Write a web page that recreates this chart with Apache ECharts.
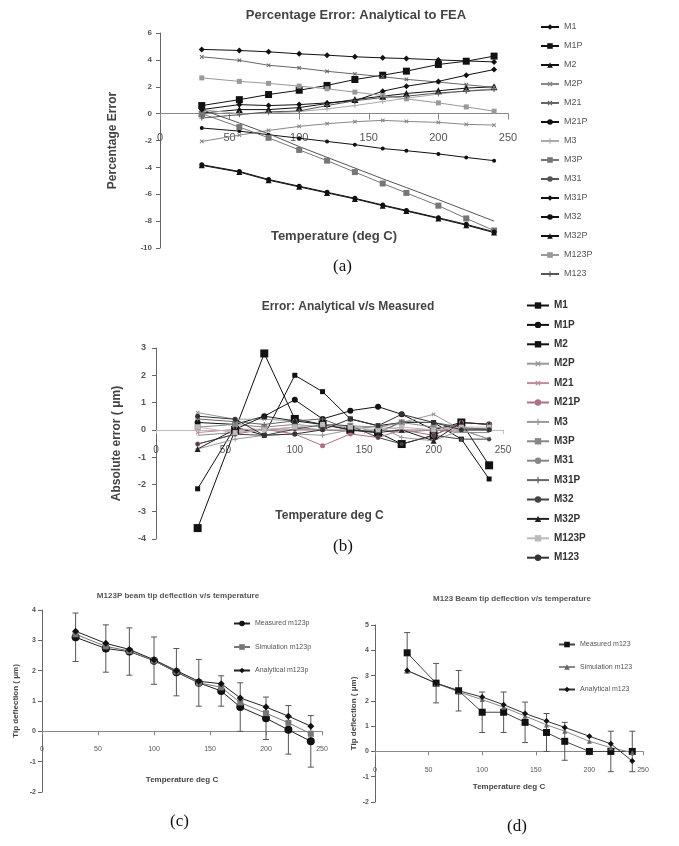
<!DOCTYPE html>
<html><head><meta charset="utf-8">
<script src="https://cdn.jsdelivr.net/npm/echarts@6/dist/echarts.min.js"></script>
<style>html,body{margin:0;padding:0;background:#fff}#c{width:679px;height:846px}</style>
</head><body><div id="c"></div>
<script>
// ---------- data ----------
const temps = [30, 57, 78, 100, 120, 140, 160, 177, 200, 220, 240];
const beamNames = ['M1','M1P','M2','M2P','M21','M21P','M3','M3P','M31','M31P','M32','M32P','M123P','M123'];

// (a) percentage error analytical to FEA
const a_M1    = [4.78, 4.7, 4.6, 4.45, 4.35, 4.23, 4.15, 4.1, 4.0, 3.92, 3.85];
const a_M1P   = [0.6, 1.04, 1.42, 1.74, 2.1, 2.54, 2.86, 3.16, 3.66, 3.9, 4.28];
const a_M2    = [0.04, 0.3, 0.3, 0.45, 0.75, 1.05, 1.3, 1.5, 1.7, 1.9, 2.0];
const a_M2P   = [-2.07, -1.6, -1.25, -0.95, -0.75, -0.6, -0.5, -0.58, -0.65, -0.8, -0.85];
const a_M21   = [4.23, 3.96, 3.6, 3.4, 3.15, 2.95, 2.75, 2.55, 2.35, 2.15, 1.95];
const a_M21P  = [-1.07, -1.3, -1.57, -1.83, -2.07, -2.31, -2.6, -2.76, -3.0, -3.26, -3.5];
const a_M3    = [0.3, 0.0, 0.05, 0.15, 0.35, 0.6, 0.9, 1.15, 1.45, 1.7, 1.85];
const a_M3P   = [0.0, -1.0, -1.8, -2.7, -3.5, -4.35, -5.2, -5.9, -6.85, -7.8, -8.7];
const a_M31   = [0.3, -0.7, -1.5, -2.45, -3.25, -4.05, -4.85, -5.5, -6.4, -7.2, -8.0];
const a_M31P  = [0.3, 0.67, 0.6, 0.67, 0.8, 0.96, 1.67, 2.04, 2.4, 2.86, 3.28];
const a_M32   = [-3.8, -4.3, -4.9, -5.4, -5.85, -6.3, -6.8, -7.2, -7.75, -8.24, -8.8];
const a_M32P  = [-3.85, -4.35, -4.95, -5.45, -5.9, -6.35, -6.85, -7.25, -7.8, -8.3, -8.85];
const a_M123P = [2.66, 2.4, 2.25, 2.05, 1.85, 1.6, 1.35, 1.1, 0.8, 0.5, 0.18];
const a_M123  = [-0.33, -0.08, 0.13, 0.2, 0.6, 0.96, 1.2, 1.3, 1.54, 1.67, 1.79];

// (b) absolute error analytical vs measured
const b_M1    = [-2.16, 0.1, -0.2, 2.0, 1.4, 0.4, 0.15, 0.27, 0.27, -0.34, -1.8];
const b_M1P   = [0.27, 0.2, 0.5, 1.1, 0.4, 0.7, 0.85, 0.57, 0.0, 0.27, 0.2];
const b_M2    = [-3.6, 0.0, 2.8, 0.4, 0.2, 0.0, -0.1, -0.52, -0.2, 0.27, -1.3];
const b_M2P   = [0.63, 0.39, 0.39, 0.33, 0.2, 0.15, -0.1, 0.27, 0.57, 0.0, 0.0];
const b_M21   = [-0.1, 0.02, 0.02, 0.02, 0.0, 0.0, 0.15, 0.0, 0.0, 0.0, -0.34];
const b_M21P  = [-0.52, -0.16, 0.02, -0.15, -0.58, -0.15, -0.28, 0.0, -0.2, 0.27, 0.2];
const b_M3    = [-0.7, -0.34, -0.2, -0.15, -0.2, 0.0, 0.15, -0.28, -0.4, 0.0, -0.34];
const b_M3P   = [0.1, 0.2, 0.1, 0.2, 0.1, 0.15, 0.1, 0.27, 0.1, 0.05, 0.05];
const b_M31   = [-0.2, -0.1, 0.0, 0.1, 0.0, -0.05, 0.0, -0.1, 0.0, -0.1, -0.1];
const b_M31P  = [0.4, 0.3, 0.2, 0.33, 0.4, 0.0, -0.1, 0.3, 0.27, 0.1, 0.0];
const b_M32   = [-0.52, -0.16, -0.2, 0.02, 0.2, 0.15, -0.28, -0.52, -0.2, -0.34, -0.34];
const b_M32P  = [-0.7, 0.02, 0.5, 0.33, 0.2, 0.0, -0.1, 0.0, -0.4, 0.27, 0.2];
const b_M123P = [0.1, -0.1, 0.0, 0.1, 0.2, 0.1, 0.0, 0.1, 0.0, 0.1, 0.1];
const b_M123  = [0.5, 0.39, -0.2, -0.15, 0.0, 0.4, 0.15, 0.57, 0.27, 0.0, 0.0];

// (c) M123P tip deflection
const c_measured   = [3.1, 2.73, 2.63, 2.33, 1.95, 1.6, 1.33, 0.8, 0.43, 0.05, -0.33];
const c_err        = [0.8, 0.78, 0.78, 0.78, 0.78, 0.77, 0.5, 0.8, 0.7, 0.8, 0.85];
const c_simulation = [3.2, 2.8, 2.65, 2.33, 1.97, 1.6, 1.45, 0.95, 0.6, 0.28, -0.08];
const c_analytical = [3.3, 2.9, 2.7, 2.36, 2.0, 1.65, 1.57, 1.1, 0.8, 0.5, 0.17];

// (d) M123 tip deflection
const d_measured   = [3.9, 2.7, 2.4, 1.55, 1.55, 1.15, 0.75, 0.4, 0.0, 0.0, 0.0];
const d_err        = [0.8, 0.78, 0.8, 0.8, 0.8, 0.8, 0.75, 0.75, 0, 0.8, 0.8];
const d_simulation = [3.2, 2.7, 2.35, 2.05, 1.75, 1.4, 1.05, 0.8, 0.4, 0.15, -0.05];
const d_analytical = [3.2, 2.7, 2.4, 2.15, 1.85, 1.5, 1.2, 0.95, 0.6, 0.3, -0.38];

// axis ranges [min, max, interval]
const a_yRange = [-10, 6, 2];
const b_yRange = [-4, 3, 1];
const c_yRange = [-2, 4, 1];
const d_yRange = [-2, 5, 1];

// ---------- styles ----------
const PLUS = 'path://M4,0H6V10H4ZM0,4H10V6H0Z';
const DASH = 'path://M0,4H10V6H0Z';
const FONT = 'Liberation Sans';

const aSeriesData = [a_M1,a_M1P,a_M2,a_M2P,a_M21,a_M21P,a_M3,a_M3P,a_M31,a_M31P,a_M32,a_M32P,a_M123P,a_M123];
const bSeriesData = [b_M1,b_M1P,b_M2,b_M2P,b_M21,b_M21P,b_M3,b_M3P,b_M31,b_M31P,b_M32,b_M32P,b_M123P,b_M123];

const aStyle = [
  ['diamond',6,'#111',1],['rect',7,'#111',1],['triangle',7,'#111',1],[PLUS,5,'#888',1,45],
  [PLUS,5,'#666',1,45],['circle',4,'#111',1],[PLUS,5,'#aaa',1],[DASH,6,'#777',1],
  ['none',0,'#555',1],['diamond',6,'#111',1],['circle',5,'#111',1],['triangle',6,'#111',1],
  [DASH,5,'#999',1],[PLUS,5,'#555',1]
];
const bStyle = [
  ['rect',5,'#111',1],['circle',6,'#111',1],['rect',8,'#111',1],[PLUS,5,'#999',1,45],
  [PLUS,5,'#c08a9a',1,45],['circle',5,'#b07080',1],[PLUS,5,'#999',1],[DASH,6,'#888',1],
  ['none',0,'#888',1],[PLUS,5,'#666',1],['circle',4,'#444',1],['triangle',6,'#222',1],
  [DASH,5,'#bbb',1],['circle',5,'#333',1]
];

function pts(vals){ return temps.map((t,i)=>[t, vals[i]]); }

function mk(prefix, idx, arr, st){
  return {
    type:'line', name: prefix + beamNames[idx], xAxisIndex: arr, yAxisIndex: arr,
    data: pts(st.data), symbol: st.s[0], symbolSize: st.s[1], symbolRotate: st.s[4]||0,
    lineStyle:{color: st.s[2], width: st.s[3]},
    itemStyle:{color: st.s[2]}, z: 3
  };
}

const series = [];
beamNames.forEach((n,i)=>{ series.push(mk('a:', i, 0, {data:aSeriesData[i], s:aStyle[i]})); });
beamNames.forEach((n,i)=>{ series.push(mk('b:', i, 1, {data:bSeriesData[i], s:bStyle[i]})); });

function errRender(params, api){
  const x = api.value(0), y = api.value(1), e = api.value(2);
  if(!e) return null;
  const t = api.coord([x, y+e]), b = api.coord([x, y-e]);
  const w = 3, st = {stroke:'#555', lineWidth:1};
  return {type:'group', children:[
    {type:'line', shape:{x1:t[0],y1:t[1],x2:b[0],y2:b[1]}, style:st},
    {type:'line', shape:{x1:t[0]-w,y1:t[1],x2:t[0]+w,y2:t[1]}, style:st},
    {type:'line', shape:{x1:b[0]-w,y1:b[1],x2:b[0]+w,y2:b[1]}, style:st}
  ]};
}

// (c)
series.push({type:'custom', xAxisIndex:2, yAxisIndex:2, renderItem: errRender, z:2,
  data: temps.map((t,i)=>[t, c_measured[i], c_err[i]]), encode:{x:0, y:1}});
series.push({type:'line', name:'Measured m123p', xAxisIndex:2, yAxisIndex:2, data: pts(c_measured),
  symbol:'circle', symbolSize:8, lineStyle:{color:'#222', width:1}, itemStyle:{color:'#111'}, z:3});
series.push({type:'line', name:'Simulation m123p', xAxisIndex:2, yAxisIndex:2, data: pts(c_simulation),
  symbol:DASH, symbolSize:6, lineStyle:{color:'#777', width:1}, itemStyle:{color:'#777'}, z:3});
series.push({type:'line', name:'Analytical m123p', xAxisIndex:2, yAxisIndex:2, data: pts(c_analytical),
  symbol:'diamond', symbolSize:7, lineStyle:{color:'#222', width:1}, itemStyle:{color:'#111'}, z:3});
// (d)
series.push({type:'custom', xAxisIndex:3, yAxisIndex:3, renderItem: errRender, z:2,
  data: temps.map((t,i)=>[t, d_measured[i], d_err[i]]), encode:{x:0, y:1}});
series.push({type:'line', name:'Measured m123', xAxisIndex:3, yAxisIndex:3, data: pts(d_measured),
  symbol:'rect', symbolSize:7, lineStyle:{color:'#444', width:1}, itemStyle:{color:'#111'}, z:3});
series.push({type:'line', name:'Simulation m123', xAxisIndex:3, yAxisIndex:3, data: pts(d_simulation),
  symbol:'triangle', symbolSize:5, lineStyle:{color:'#888', width:1}, itemStyle:{color:'#666'}, z:3});
series.push({type:'line', name:'Analytical m123', xAxisIndex:3, yAxisIndex:3, data: pts(d_analytical),
  symbol:'diamond', symbolSize:6, lineStyle:{color:'#333', width:1}, itemStyle:{color:'#111'}, z:3});

// ---------- layout ----------
const grids = [
  {left:160, top:33, width:348, height:215},
  {left:156, top:348, width:347, height:191},
  {left:42, top:610, width:280, height:182},
  {left:375, top:625, width:268, height:177}
];
const yRanges = [a_yRange, b_yRange, c_yRange, d_yRange];
// shift each x axis (line, ticks, labels, name) up onto the y = 0 line
function zeroOffset(gi){
  const r = yRanges[gi], g = grids[gi];
  return -g.height * (0 - r[0]) / (r[1] - r[0]);
}

function xAx(gi, o){
  return {type:'value', gridIndex:gi, min:0, max:250, interval:50, position:'bottom',
    offset: zeroOffset(gi),
    axisLine:{onZero:false, lineStyle:{color:o.lc||'#666', width:1}},
    axisTick:{show:true, length:o.tl||4, lineStyle:{color:o.lc||'#666'}},
    splitLine:{show:false},
    axisLabel:{fontFamily:FONT, fontSize:o.fs, color:'#555', margin:o.m, fontWeight:o.fw||'normal'},
    name:o.name, nameLocation:'middle', nameGap:o.ng,
    nameTextStyle:{fontFamily:FONT, fontSize:o.nfs, fontWeight:'bold', color:'#444'}};
}
function yAx(gi, o){
  const r = yRanges[gi];
  return {type:'value', gridIndex:gi, min:r[0], max:r[1], interval:r[2],
    axisLine:{show:true, onZero:false, lineStyle:{color:'#666', width:1}},
    axisTick:{show:true, length:4, lineStyle:{color:'#666'}},
    splitLine:{show:false},
    axisLabel:{fontFamily:FONT, fontSize:o.fs, color:'#555', margin:o.m, fontWeight:'bold'},
    name:o.name, nameLocation:'middle', nameGap:o.ng,
    nameTextStyle:{fontFamily:FONT, fontSize:o.nfs, fontWeight:'bold', color:'#444'}};
}

function legendBox(prefix, names, o){
  return {orient:'vertical', left:o.left, top:o.top, itemWidth:o.iw, itemHeight:o.ih, itemGap:o.gap,
    selectedMode:false, data: names.map(n=>prefix+n),
    formatter: n => n.slice(prefix.length),
    textStyle:{fontFamily:FONT, fontSize:o.fs, color:o.col||'#555', fontWeight:o.fw||'normal', lineHeight:o.lh}};
}

const option = {
  backgroundColor:'#fff',
  animation:false,
  title:[
    {text:'Percentage Error: Analytical to FEA', left:351, top:4, textAlign:'center',
      textStyle:{fontFamily:FONT, fontSize:13, fontWeight:'bold', color:'#444'}},
    {text:'Error: Analytical v/s Measured', left:343, top:296, textAlign:'center',
      textStyle:{fontFamily:FONT, fontSize:12, fontWeight:'bold', color:'#444'}},
    {text:'M123P beam tip deflection v/s temperature', left:173, top:587, textAlign:'center',
      textStyle:{fontFamily:FONT, fontSize:8, fontWeight:'bold', color:'#555'}},
    {text:'M123 Beam tip deflection v/s temperature', left:507, top:590, textAlign:'center',
      textStyle:{fontFamily:FONT, fontSize:8, fontWeight:'bold', color:'#555'}}
  ],
  grid: grids,
  xAxis:[
    xAx(0,{fs:11, m:19, name:'Temperature (deg C)', ng:116, nfs:13, lc:'#888', tl:6}),
    xAx(1,{fs:10, m:15, name:'Temperature deg C', ng:80, nfs:12, lc:'#c9b8bc'}),
    xAx(2,{fs:7, m:14, name:'Temperature deg C', ng:44, nfs:8, lc:'#888'}),
    xAx(3,{fs:7, m:15, name:'Temperature deg C', ng:31, nfs:8, lc:'#888'})
  ],
  yAxis:[
    yAx(0,{fs:8, m:8, name:'Percentage Error', ng:41, nfs:12}),
    yAx(1,{fs:9, m:10, name:'Absolute error ( \u03bcm)', ng:33, nfs:12}),
    yAx(2,{fs:7, m:6, name:'Tip deflection ( \u03bcm)', ng:22, nfs:8}),
    yAx(3,{fs:7, m:6, name:'Tip deflection ( \u03bcm)', ng:17, nfs:8})
  ],
  legend:[
    legendBox('a:', beamNames, {left:535, top:17, iw:18, ih:7, gap:9, lh:10, fs:9, col:'#555'}),
    legendBox('b:', beamNames, {left:521, top:295, iw:22, ih:8, gap:8.4, lh:11, fs:10, fw:'bold', col:'#333'}),
    legendBox('', ['Measured m123p','Simulation m123p','Analytical m123p'],
      {left:228, top:614, iw:16, ih:7, gap:14.5, lh:9, fs:7, col:'#555'}),
    legendBox('', ['Measured m123','Simulation m123','Analytical m123'],
      {left:553, top:635, iw:16, ih:7, gap:13.5, lh:9, fs:7, col:'#555'})
  ],
  graphic:[
    {type:'text', left:333, top:258, style:{text:'(a)', font:'17px "Liberation Serif"', fill:'#111'}},
    {type:'text', left:333, top:538, style:{text:'(b)', font:'17px "Liberation Serif"', fill:'#111'}},
    {type:'text', left:170, top:813, style:{text:'(c)', font:'17px "Liberation Serif"', fill:'#111'}},
    {type:'text', left:507, top:818, style:{text:'(d)', font:'17px "Liberation Serif"', fill:'#111'}}
  ],
  series: series
};

const chart = echarts.init(document.getElementById('c'), null, {renderer:'canvas'});
chart.setOption(option);
</script>
</body></html>
